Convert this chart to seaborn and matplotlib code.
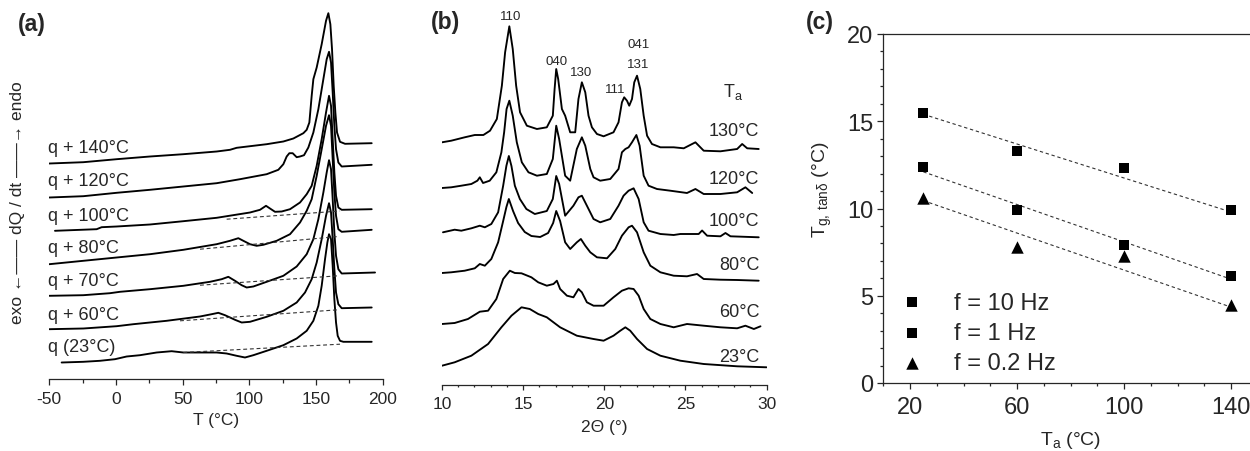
import matplotlib
matplotlib.use('Agg')
import matplotlib.pyplot as plt
import seaborn as sns
from matplotlib.ticker import MultipleLocator, FixedLocator

sns.set_style('ticks')
plt.rcParams['font.family'] = ['Liberation Sans', 'DejaVu Sans']
plt.rcParams['axes.linewidth'] = 0.9
plt.rcParams['axes.unicode_minus'] = False

# ---------------- Panel (a): DSC traces (T in degC, heat flow in arbitrary units, already offset) ----
c140_T = [-50, -24.5, 0.5, 25.5, 50.5, 75.5, 85.5, 90.5, 113, 125.5, 133, 140.5, 143, 145, 146.75, 148,
          150.5, 154.25, 157.5, 159.25, 160.75, 162, 163.25, 164.5, 165.75, 168, 171.75, 191.75]
c140_h = [215.0, 216.3, 219.3, 222.0, 224.3, 227.0, 228.7, 230.7, 234.3, 237.0, 240.0, 245.3, 248.7, 256.0,
          282.7, 299.3, 311.0, 334.3, 357.7, 365.3, 354.3, 329.3, 292.7, 266.0, 246.0, 236.7, 234.7, 235.3]

c120_T = [-50, -24.5, 0.5, 25.5, 50.5, 75.5, 93, 113, 121.75, 125.5, 128, 130, 132.5, 135.5, 138, 141,
          144.25, 148, 151.75, 155.5, 158, 159.75, 161.25, 162.5, 163.75, 165, 166.75, 169.25, 191.75]
c120_h = [181.0, 182.3, 185.7, 188.7, 192.0, 195.3, 199.3, 204.3, 208.7, 214.3, 222.0, 225.3, 225.3, 221.3,
          222.0, 223.3, 231.0, 246.0, 269.3, 299.3, 319.3, 326.7, 316.0, 286.0, 252.7, 229.3, 216.0, 212.0, 213.7]

c100_T = [-45.75, -14.5, -10.75, 0.5, 25.5, 50.5, 75.5, 100.5, 108, 112.5, 115.5, 119.25, 124.25, 130.5,
          138, 143, 146.75, 150.5, 154.25, 157.5, 159.75, 161.25, 162.5, 163.75, 165, 166.75, 169.25, 191.75]
c100_h = [147.7, 149.3, 151.3, 152.0, 154.0, 157.3, 160.7, 166.0, 168.7, 172.7, 170.0, 166.7, 167.0, 169.3,
          176.0, 184.3, 192.7, 212.7, 239.3, 266.0, 282.7, 272.7, 239.3, 206.0, 182.7, 171.0, 168.7, 169.3]

c80_T = [-50, -24.5, 0.5, 25.5, 50.5, 75.5, 85.5, 91.75, 95.5, 100.5, 105.5, 110.5, 120.5, 130.5, 138, 143,
         146.75, 150.5, 154.25, 157.5, 159.75, 161.25, 162.5, 163.75, 165, 166.75, 169.25, 191.75]
c80_h = [114.3, 117.7, 121.0, 124.3, 128.7, 134.3, 137.7, 140.3, 137.7, 134.3, 132.7, 133.7, 137.7, 144.3,
         156.0, 167.7, 179.3, 202.7, 229.3, 252.7, 263.3, 252.7, 219.3, 186.0, 162.7, 149.3, 146.7, 148.7]

c70_T = [-50, -24.5, -4.5, 3, 25.5, 50.5, 70.5, 79.25, 84.25, 89.25, 94.25, 98, 103, 113, 125.5, 135.5, 143,
         148, 151.75, 155.5, 158, 159.75, 161.25, 162.5, 163.75, 165, 166.75, 169.25, 194.25]
c70_h = [82.7, 83.3, 85.3, 86.7, 89.3, 92.7, 96.7, 99.3, 101.7, 97.7, 93.3, 91.0, 92.0, 96.7, 102.7, 112.0,
         124.3, 139.3, 159.3, 186.0, 206.0, 218.3, 209.3, 179.3, 146.0, 122.7, 109.3, 105.0, 106.0]

c60_T = [-50, -24.5, 0.5, 13, 38, 63, 71.75, 76.75, 81.75, 89.25, 94.25, 100.5, 113, 125.5, 135.5, 141.75,
         146.75, 150.5, 154.25, 157.5, 159.75, 161.25, 162.5, 163.75, 165, 166.75, 169.25, 191.75]
c60_h = [49.3, 50.0, 52.3, 54.3, 57.7, 62.0, 64.3, 65.7, 63.3, 58.7, 56.0, 56.7, 61.7, 67.7, 76.0, 86.0,
         99.3, 116.0, 139.3, 162.7, 175.3, 166.0, 139.3, 109.3, 86.0, 74.3, 70.3, 71.0]

c23_T = [-40.75, -24.5, -12, -0.75, 8, 18, 30.5, 41.75, 50.5, 75.5, 83, 90.5, 96.75, 103, 113, 125.5, 135.5,
         143, 148, 151.75, 154.25, 156.75, 158.5, 159.75, 161.25, 162.5, 163.75, 165, 166.25, 168, 170.5, 191.75]
c23_h = [16.0, 16.7, 17.7, 19.3, 22.0, 23.3, 26.0, 27.3, 26.0, 26.0, 25.0, 22.7, 21.0, 23.3, 27.7, 33.3, 40.0,
         47.7, 57.7, 72.7, 92.7, 119.3, 136.0, 144.3, 139.3, 112.7, 79.3, 56.0, 42.7, 37.7, 36.7, 36.7]

# dashed baselines (start / end)
base100_T, base100_h = [83, 168], [159.3, 167.5]
base80_T, base80_h = [63, 166.75], [129.3, 142.0]
base70_T, base70_h = [63, 166.75], [93.3, 102.7]
base60_T, base60_h = [48, 166.75], [57.7, 68.7]
base23_T, base23_h = [50.5, 168], [26.0, 34.3]

dsc_labels = ['q + 140°C', 'q + 120°C', 'q + 100°C', 'q + 80°C', 'q + 70°C', 'q + 60°C', 'q (23°C)']
dsc_label_h = [231, 198.3, 162.7, 131, 97.7, 64.3, 31.7]

# ---------------- Panel (b): WAXS patterns (2theta in deg, intensity in arbitrary units, offset) ----------
x130 = [10.0, 10.57, 11.40, 12.02, 12.55, 12.96, 13.38, 13.69, 13.89, 14.15, 14.36, 14.57, 14.81, 15.23, 15.85,
        16.46, 16.83, 16.94, 17.04, 17.16, 17.39, 17.59, 17.90, 18.21, 18.41, 18.62, 18.83, 19.03, 19.24, 19.55,
        19.96, 20.57, 20.88, 21.09, 21.23, 21.40, 21.54, 21.71, 21.85, 22.02, 22.22, 22.43, 22.64, 22.94, 23.46,
        24.28, 24.90, 25.62, 26.13, 27.16, 28.19, 28.50, 28.81, 29.52]
y130 = [242.7, 244.3, 247.7, 250, 250, 254.3, 266, 299.3, 332.7, 358.7, 336, 299.3, 272.7, 259.3, 256, 257.7,
        269.3, 296, 316, 306, 276, 269.3, 252.7, 252.7, 286, 302.7, 292.7, 269.3, 257.7, 251, 248.7, 252.7,
        262.7, 282.7, 287.7, 284.3, 279.3, 286, 302.7, 309.3, 296, 269.3, 249.3, 241, 237.7, 237.7, 236.7,
        242.7, 234.3, 233.7, 236, 241, 236.7, 236]

x120 = [10.0, 10.57, 11.19, 11.81, 12.18, 12.33, 12.53, 12.94, 13.35, 13.66, 13.83, 13.98, 14.15, 14.36, 14.61,
        14.92, 15.33, 15.85, 16.46, 16.83, 17.04, 17.22, 17.59, 17.90, 18.31, 18.62, 18.83, 19.14, 19.34, 19.75,
        20.37, 20.88, 21.09, 21.30, 21.50, 21.71, 21.98, 22.18, 22.43, 22.73, 23.25, 24.07, 25.10, 25.62, 26.13,
        27.16, 28.19, 28.70, 29.12]
y120 = [197, 197.7, 199.3, 201, 204.3, 207.7, 202, 204.3, 212.7, 232.7, 252.7, 276, 284.3, 269.3, 242.7, 222.7,
        212.7, 209.3, 211, 226, 259.3, 246, 209.3, 204.3, 236, 247.7, 239.3, 216, 207.7, 204.3, 206, 216, 232.7,
        236, 237.7, 242.7, 250, 239.3, 209.3, 199.3, 196, 194.3, 192, 196, 191, 191, 192.7, 197.7, 192]

x100 = [10.06, 10.78, 11.19, 11.81, 12.33, 12.64, 13.04, 13.46, 13.77, 13.97, 14.12, 14.28, 14.49, 14.80, 15.20,
        15.72, 16.46, 16.83, 17.04, 17.22, 17.59, 18.10, 18.41, 18.62, 18.93, 19.34, 19.75, 20.37, 20.88, 21.19,
        21.50, 21.81, 22.12, 22.43, 22.73, 23.46, 24.28, 24.69, 25.82, 26.03, 26.34, 27.16, 27.47, 27.78, 29.52]
y100 = [152.7, 155.3, 154.3, 156.7, 159.3, 157.7, 161, 172.7, 199.3, 219.3, 229, 219, 199.3, 186, 176, 171, 174,
        186, 209, 201, 169.3, 179.3, 187.7, 189.3, 179.3, 166, 162.7, 166, 179.3, 189.3, 194.3, 196.7, 186,
        162.7, 154.3, 151, 150, 151, 151, 154.5, 149.3, 148.7, 152, 148.7, 147.7]

x80 = [10.0, 10.57, 11.40, 12.02, 12.33, 12.64, 13.04, 13.46, 13.77, 13.97, 14.12, 14.38, 14.69, 15.10, 15.51,
       16.05, 16.54, 16.85, 17.04, 17.28, 17.59, 17.90, 18.31, 18.56, 18.83, 19.14, 19.55, 20.17, 20.68, 21.09,
       21.50, 21.71, 22.02, 22.43, 22.84, 23.46, 24.28, 25.10, 25.72, 26.13, 27.16, 28.19, 29.52]
y80 = [112, 112.7, 114.3, 116.7, 121, 119.3, 126, 142.7, 164, 178, 186, 174, 162, 153, 149, 148, 152, 162, 174,
       164, 142.7, 136, 142.7, 146, 139.3, 132.7, 127.7, 126.7, 136, 149.3, 157.7, 159.3, 152.7, 132.7, 119.3,
       112.7, 109.3, 108.7, 111, 106, 105.3, 105, 104.3]

x60 = [10.0, 10.78, 11.60, 12.33, 12.84, 13.35, 13.77, 14.18, 14.49, 14.90, 15.51, 15.93, 16.46, 16.87, 17.08,
       17.28, 17.70, 18.10, 18.41, 18.62, 18.93, 19.34, 19.96, 20.57, 21.09, 21.50, 21.81, 22.12, 22.43, 22.84,
       23.46, 24.28, 25.10, 26.13, 27.16, 28.19, 28.70, 29.22, 29.63]
y60 = [61, 62, 66, 73.3, 74.3, 86, 106, 114.3, 112, 111.7, 107.7, 102.7, 99.3, 101, 104.3, 96, 89.3, 87.7, 96,
       92.7, 82.7, 79.3, 79.3, 87.7, 94.3, 96.7, 96, 89.3, 76, 66, 61, 57.7, 61, 59.3, 57.7, 56.7, 59.3, 56, 58.7]

x23 = [10.0, 10.78, 11.81, 12.84, 13.66, 14.28, 14.90, 15.41, 15.93, 16.46, 17.28, 18.31, 19.34, 19.96, 20.57,
       20.99, 21.30, 21.60, 22.02, 22.64, 23.46, 24.69, 26.13, 28.19, 30.0]
y23 = [19.3, 22.7, 29.3, 41, 57.7, 69.3, 77.7, 76, 71, 67.7, 57.7, 49.3, 46, 44.3, 49.3, 54.3, 57.7, 54.3, 46,
       36, 29.3, 24.3, 21, 18.7, 17.7]

waxs_labels = ['130°C', '120°C', '100°C', '80°C', '60°C', '23°C']
waxs_label_y = [255, 207, 164.5, 120, 73, 28.5]
hkl_labels = ['110', '040', '130', '111', '041', '131']
hkl_x = [14.2, 17.04, 18.55, 20.68, 22.1, 22.1]
hkl_y = [369, 324, 313, 296, 341, 321]

# ---------------- Panel (c): Tg from tan delta vs annealing temperature ----------------
Ta = [25, 60, 100, 140]
tg_10Hz = [15.5, 13.3, 12.3, 9.9]
tg_1Hz = [12.4, 9.9, 7.9, 6.15]
tg_02Hz = [10.6, 7.8, 7.3, 4.45]
fit_Ta = [25, 140]
fit_10Hz = [15.4, 9.8]
fit_1Hz = [12.1, 5.95]
fit_02Hz = [10.45, 4.35]
freq_labels = ['f = 10 Hz', 'f = 1 Hz', 'f = 0.2 Hz']

# ---------------- Figure / layout ----------------
W, H = 1250, 452
fig = plt.figure(figsize=(W / 100, H / 100), dpi=100)


def px_axes(l, t, r, b):
    return fig.add_axes([l / W, 1 - b / H, (r - l) / W, (b - t) / H])


ax_a = px_axes(49.3, 7.5, 382.7, 379.5)
ax_b = px_axes(442, 7, 766.5, 386)
ax_c = px_axes(883.25, 35, 1257.75, 384)

LW = 1.35
line_kw = dict(color='black', lw=LW, sort=False, estimator=None, errorbar=None)

# ---- (a)
for T, h in [(c140_T, c140_h), (c120_T, c120_h), (c100_T, c100_h), (c80_T, c80_h),
             (c70_T, c70_h), (c60_T, c60_h), (c23_T, c23_h)]:
    sns.lineplot(x=T, y=h, ax=ax_a, **line_kw)
for T, h in [(base100_T, base100_h), (base80_T, base80_h), (base70_T, base70_h),
             (base60_T, base60_h), (base23_T, base23_h)]:
    sns.lineplot(x=T, y=h, ax=ax_a, color='#333333', lw=0.8, sort=False, estimator=None,
                 errorbar=None, dashes=False, linestyle=(0, (3.5, 2.5)))
for lab, yy in zip(dsc_labels, dsc_label_h):
    ax_a.text(-51, yy, lab, ha='left', va='center', fontsize=13)

ax_a.set_xlim(-50, 200)
ax_a.set_ylim(0, 372)
ax_a.xaxis.set_major_locator(MultipleLocator(50))
ax_a.xaxis.set_minor_locator(MultipleLocator(25))
ax_a.set_yticks([])
for s in ['left', 'top', 'right']:
    ax_a.spines[s].set_visible(False)
ax_a.tick_params(axis='x', which='major', direction='out', length=6 * 0.72, width=0.9, labelsize=12.5, pad=5)
ax_a.tick_params(axis='x', which='minor', direction='out', length=4 * 0.72, width=0.9)
ax_a.set_xlabel('T (°C)', fontsize=12.5, va='center')
ax_a.xaxis.set_label_coords(0.5, (379.5 - 421) / 372)
ax_a.set_ylabel('')

fig.text(18 / W, 1 - 203 / H, 'exo \u2190\u2014\u2014 dQ / dt \u2014\u2014\u2192 endo',
         rotation=90, ha='center', va='center', fontsize=12.5)

# ---- (b)
for xx, yy in [(x130, y130), (x120, y120), (x100, y100), (x80, y80), (x60, y60), (x23, y23)]:
    sns.lineplot(x=xx, y=yy, ax=ax_b, **line_kw)
for lab, yy in zip(waxs_labels, waxs_label_y):
    ax_b.text(29.55, yy, lab, ha='right', va='center', fontsize=13)
for lab, xx, yy in zip(hkl_labels, hkl_x, hkl_y):
    ax_b.text(xx, yy, lab, ha='center', va='center', fontsize=9.5)
ax_b.text(27.96, 294, '$\\mathregular{T_a}$', ha='center', va='center', fontsize=13)

ax_b.set_xlim(10, 30)
ax_b.set_ylim(0, 379)
ax_b.xaxis.set_major_locator(MultipleLocator(5))
ax_b.xaxis.set_minor_locator(MultipleLocator(1))
ax_b.set_yticks([])
for s in ['left', 'top', 'right']:
    ax_b.spines[s].set_visible(False)
ax_b.tick_params(axis='x', which='major', direction='out', length=5 * 0.72, width=0.9, labelsize=12.5, pad=4.5)
ax_b.tick_params(axis='x', which='minor', direction='out', length=2.5 * 0.72, width=0.9)
ax_b.set_xlabel('2\u0398 (°)', fontsize=12.5, va='center')
ax_b.xaxis.set_label_coords(0.5, (386 - 428) / 379)
ax_b.set_ylabel('')

# ---- (c)
for fy in [fit_10Hz, fit_1Hz, fit_02Hz]:
    sns.lineplot(x=fit_Ta, y=fy, ax=ax_c, color='#333333', lw=0.8, sort=False, estimator=None,
                 errorbar=None, linestyle=(0, (3, 2.5)))
sns.scatterplot(x=Ta, y=tg_10Hz, ax=ax_c, marker='s', s=50, color='black', edgecolor='black',
                linewidth=0, label=freq_labels[0], zorder=3)
sns.scatterplot(x=Ta, y=tg_1Hz, ax=ax_c, marker='s', s=50, color='black', edgecolor='black',
                linewidth=0, label=freq_labels[1], zorder=3)
sns.scatterplot(x=Ta, y=tg_02Hz, ax=ax_c, marker='^', s=80, color='black', edgecolor='black',
                linewidth=0, label=freq_labels[2], zorder=3)

ax_c.set_xlim(10, 150)
ax_c.set_ylim(0, 20)
ax_c.xaxis.set_major_locator(FixedLocator([20, 60, 100, 140]))
ax_c.xaxis.set_minor_locator(MultipleLocator(10))
ax_c.yaxis.set_major_locator(MultipleLocator(5))
ax_c.yaxis.set_minor_locator(MultipleLocator(1))
for s in ['left', 'top', 'right', 'bottom']:
    ax_c.spines[s].set_visible(True)
    ax_c.spines[s].set_linewidth(0.9)
ax_c.tick_params(which='major', direction='out', length=6 * 0.72, width=0.9, labelsize=17, pad=3)
ax_c.tick_params(axis='x', which='major', pad=5)
ax_c.tick_params(which='minor', direction='out', length=3 * 0.72, width=0.9)
ax_c.set_xlabel('$\\mathregular{T_a}$ (°C)', fontsize=14, va='center')
ax_c.xaxis.set_label_coords(0.5, (384 - 441) / 349)
ax_c.set_ylabel('$\\mathregular{T_{g,\\,tan\u03b4}}$ (°C)', fontsize=14, va='center', ha='center')
ax_c.yaxis.set_label_coords((822 - 883.25) / 374.5, (384 - 190) / 349)

handles, labels = ax_c.get_legend_handles_labels()
ax_c.legend(handles, labels, loc='upper left', bbox_to_anchor=(0.045, 0.262), frameon=False,
            fontsize=17, handlelength=1.0, handletextpad=1.3, labelspacing=0.35,
            borderpad=0, borderaxespad=0, markerscale=1.0)

# panel letters
fig.text(32 / W, 1 - 24 / H, '(a)', fontsize=16.5, fontweight='bold', ha='center', va='center')
fig.text(446 / W, 1 - 22 / H, '(b)', fontsize=16.5, fontweight='bold', ha='center', va='center')
fig.text(820 / W, 1 - 22 / H, '(c)', fontsize=16.5, fontweight='bold', ha='center', va='center')

fig.savefig('out.png', dpi=100)
